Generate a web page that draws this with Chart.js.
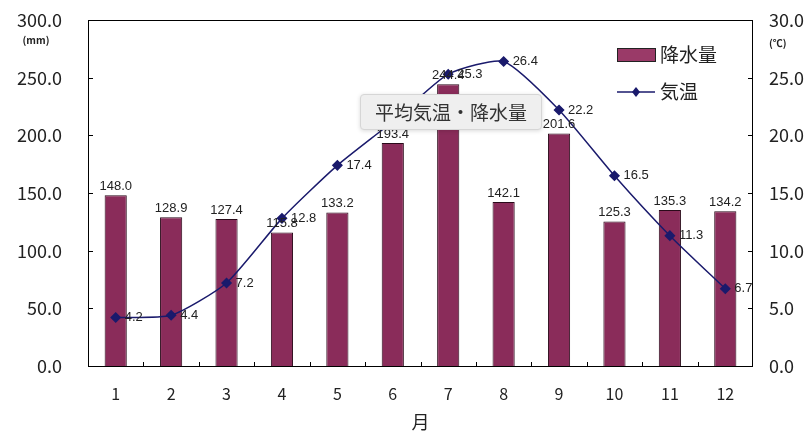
<!DOCTYPE html>
<html>
<head>
<meta charset="utf-8">
<script src="https://cdn.jsdelivr.net/npm/chart.js@4.4.1/dist/chart.umd.min.js"></script>
<style>
    body { margin: 0; background: #fff; }
    #wrap { position: relative; width: 809px; height: 434px; }
    #tip {
        position: absolute; left: 360px; top: 94px; width: 180px; height: 34px;
        background: #efefef; border: 1px solid #d6d6d6; border-radius: 4px;
        box-shadow: 0 1px 4px rgba(0,0,0,0.15);
        font: 19px "Noto Sans CJK JP", sans-serif; color: #333;
        line-height: 34px; text-align: center;
    }
</style>
</head>
<body>
<div id="wrap">
    <canvas id="myChart" width="809" height="434"></canvas>
    <div id="tip">平均気温・降水量</div>
</div>
<script>
const months = ['1', '2', '3', '4', '5', '6', '7', '8', '9', '10', '11', '12'];
const rainfall = [148.0, 128.9, 127.4, 115.8, 133.2, 193.4, 244.4, 142.1, 201.6, 125.3, 135.3, 134.2];
const temperature = [4.2, 4.4, 7.2, 12.8, 17.4, 21.2, 25.3, 26.4, 22.2, 16.5, 11.3, 6.7];
const rainTicks = [0, 50, 100, 150, 200, 250, 300];
const tempTicks = [0, 5, 10, 15, 20, 25, 30];

const barColor = '#8a2c5a';
const lineColor = '#1a1a6c';
const textFont = '"Noto Sans CJK JP", sans-serif';

// frame, inner ticks, value labels, units and legend
const extras = {
    id: 'extras',
    afterDatasetsDraw(chart) {
        const ctx = chart.ctx;
        const area = chart.chartArea;
        const x = chart.scales.x;
        const y = chart.scales.y;
        const y1 = chart.scales.y1;
        ctx.save();

        ctx.strokeStyle = '#000';
        ctx.lineWidth = 1;
        ctx.strokeRect(area.left + 0.5, area.top + 0.5, area.right - area.left - 1, area.bottom - area.top);

        ctx.beginPath();
        rainTicks.forEach(v => {
            const py = Math.round(y.getPixelForValue(v)) + 0.5;
            ctx.moveTo(area.left, py);
            ctx.lineTo(area.left + 5, py);
        });
        tempTicks.forEach(v => {
            const py = Math.round(y1.getPixelForValue(v)) + 0.5;
            ctx.moveTo(area.right, py);
            ctx.lineTo(area.right - 5, py);
        });
        for (let i = 1; i < months.length; i++) {
            const px = Math.round((x.getPixelForValue(i - 1) + x.getPixelForValue(i)) / 2) + 0.5;
            ctx.moveTo(px, area.bottom);
            ctx.lineTo(px, area.bottom - 4);
        }
        ctx.stroke();

        // value labels
        ctx.fillStyle = '#222';
        ctx.font = '13px "Liberation Sans", sans-serif';
        ctx.textBaseline = 'middle';
        chart.getDatasetMeta(0).data.forEach((bar, i) => {
            ctx.textAlign = 'center';
            ctx.fillText(rainfall[i].toFixed(1), bar.x, bar.y - 9);
        });
        chart.getDatasetMeta(1).data.forEach((pt, i) => {
            ctx.textAlign = 'left';
            ctx.fillText(temperature[i].toFixed(1), pt.x + 9, pt.y);
        });

        // axis units
        ctx.font = 'bold 10px ' + textFont;
        ctx.textAlign = 'center';
        ctx.fillText('(mm)', 36, 40);
        ctx.textAlign = 'left';
        ctx.fillText('(℃)', 769, 43);

        // legend
        const ds = chart.data.datasets;
        ctx.fillStyle = '#9a3a68';
        ctx.strokeStyle = '#222';
        ctx.fillRect(617, 48, 38, 13);
        ctx.strokeRect(617.5, 48.5, 38, 13);
        ctx.strokeStyle = lineColor;
        ctx.lineWidth = 1.5;
        ctx.beginPath();
        ctx.moveTo(617, 92);
        ctx.lineTo(655, 92);
        ctx.stroke();
        ctx.fillStyle = lineColor;
        ctx.beginPath();
        ctx.moveTo(636, 87); ctx.lineTo(640, 92); ctx.lineTo(636, 97); ctx.lineTo(632, 92);
        ctx.closePath();
        ctx.fill();
        ctx.fillStyle = '#222';
        ctx.font = '19px ' + textFont;
        ctx.fillText(ds[0].label, 660, 55);
        ctx.fillText(ds[1].label, 660, 92);

        ctx.restore();
    }
};

function fixVertical(width) {
    return s => {
        s.width = width;
        s.paddingTop = 0;
        s.paddingBottom = 0;
    };
}

new Chart(document.getElementById('myChart'), {
    data: {
        labels: months,
        datasets: [
            {
                type: 'bar',
                label: '降水量',
                data: rainfall,
                backgroundColor: barColor,
                borderColor: '#2a0a1a',
                borderWidth: 1,
                borderSkipped: 'bottom',
                categoryPercentage: 1,
                barPercentage: 0.4,
                yAxisID: 'y',
                order: 2
            },
            {
                type: 'line',
                label: '気温',
                data: temperature,
                borderColor: lineColor,
                borderWidth: 1.5,
                tension: 0.2,
                pointStyle: 'rectRot',
                pointRadius: 4.5,
                pointBackgroundColor: lineColor,
                pointBorderColor: lineColor,
                yAxisID: 'y1',
                order: 1
            }
        ]
    },
    options: {
        responsive: false,
        animation: false,
        layout: { padding: { top: 20 } },
        plugins: {
            legend: { display: false },
            tooltip: { enabled: false }
        },
        scales: {
            x: {
                grid: { display: false, drawTicks: false },
                border: { display: false },
                ticks: { padding: 18, color: '#222', font: { size: 16, family: textFont } },
                title: { display: true, text: '月', color: '#222', padding: { top: 0, bottom: 1 }, font: { size: 18, family: textFont } },
                afterFit(s) {
                    s.height = 68;
                    s.paddingLeft = 0;
                    s.paddingRight = 0;
                }
            },
            y: {
                position: 'left',
                min: 0,
                max: 300,
                grid: { display: false, drawTicks: false },
                border: { display: false },
                ticks: {
                    stepSize: 50,
                    padding: 26,
                    color: '#222',
                    font: { size: 18, family: textFont },
                    callback: v => v.toFixed(1)
                },
                afterFit: fixVertical(88)
            },
            y1: {
                position: 'right',
                min: 0,
                max: 30,
                grid: { display: false, drawTicks: false },
                border: { display: false },
                ticks: {
                    stepSize: 5,
                    padding: 16,
                    color: '#222',
                    font: { size: 18, family: textFont },
                    callback: v => v.toFixed(1)
                },
                afterFit: fixVertical(56)
            }
        }
    },
    plugins: [extras]
});
</script>
</body>
</html>
